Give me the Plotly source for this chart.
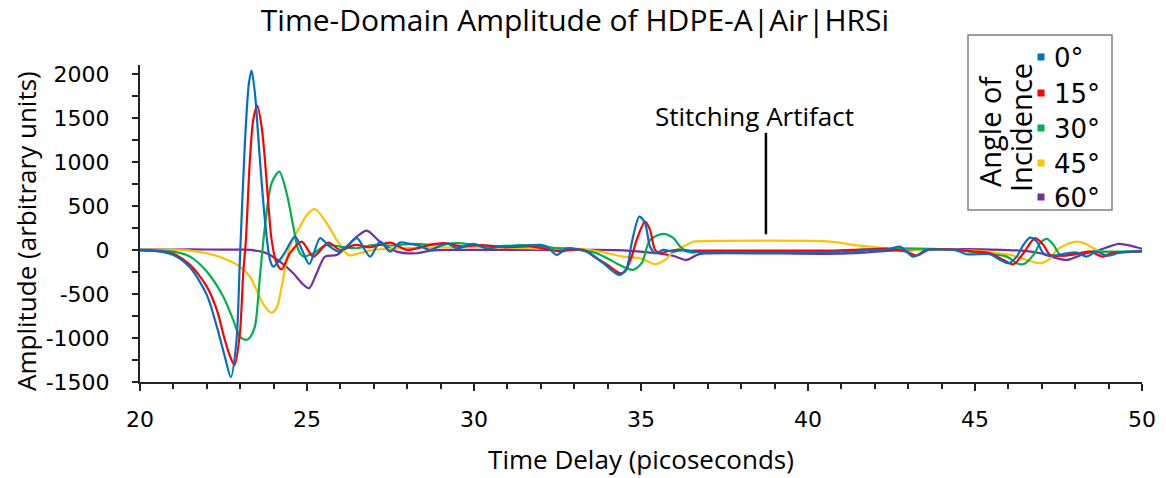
import plotly.graph_objects as go

# ---------------- data ----------------
t_0 = [20.0, 20.5, 21.0, 21.5, 22.0, 22.3, 22.54, 22.72, 22.89, 22.99, 23.14, 23.26, 23.34, 23.44, 23.59,
       23.74, 23.89, 23.99, 24.29, 24.64, 24.85, 25.07, 25.39, 25.64, 25.94, 26.2, 26.49, 26.89, 27.19, 27.49,
       27.78, 28.08, 28.38, 28.68, 28.95, 29.23, 29.49, 29.98, 30.38, 30.88, 31.38, 31.98, 32.18, 32.48, 32.78,
       33.08, 33.47, 33.87, 34.17, 34.37, 34.57, 34.72, 34.95, 35.12, 35.27, 35.42, 35.67, 35.97, 36.27, 36.57,
       40.8, 41.0, 41.35, 41.8, 42.35, 42.75, 43.15, 43.54, 44.0, 44.44, 44.74, 45.1, 45.45, 45.75, 46.0, 46.25,
       46.45, 46.65, 46.85, 47.05, 47.35, 47.75, 48.05, 48.34, 48.64, 48.94, 49.3, 49.6, 50.0]
a_0 = [-5, -15, -57, -200, -511, -871, -1212, -1445, -1023, -114, 1212, 1890, 2037, 1780, 1023,
       340, -110, -190, -60, 150, 0, -160, 133, 50, -19, 40, 133, -76, 95, -19,
       83, 68, 45, 0, 40, 68, 19, 68, 19, 40, 45, 57, 38, -57, 19,
       8, -38, -151, -246, -284, -208, 76, 378, 303, 38, -38, 0, -19, 0, -19,
       -23, -20, -26, 0, 0, 38, -76, 0, 5, -5, -49, -49, -49, -114, -151, -76,
       57, 140, 95, -38, -65, -38, -30, -76, -20, -65, -35, -20, -10]

t_15 = [20.0, 20.5, 21.0, 21.5, 22.0, 22.3, 22.54, 22.7, 22.83, 22.99, 23.09, 23.17, 23.29, 23.39, 23.51,
        23.64, 23.74, 23.84, 23.94, 24.09, 24.24, 24.49, 24.84, 25.19, 25.64, 25.99, 26.44, 26.89, 27.49, 28.0,
        28.68, 29.09, 29.68, 30.18, 30.88, 31.68, 32.28, 32.58, 32.88, 33.27, 33.67, 34.07, 34.37, 34.52, 34.72,
        34.87, 35.12, 35.27, 35.42, 35.57, 35.8, 36.1, 36.4, 36.6, 40.8, 41.35, 42.35, 42.94, 43.25, 43.6,
        44.3, 44.9, 45.45, 45.85, 46.15, 46.45, 46.65, 46.8, 47.05, 47.25, 47.65, 48.1, 48.45, 48.84, 49.1,
        49.6, 50.0]
a_15 = [-3, -12, -45, -170, -417, -682, -1023, -1212, -1307, -947, -265, 114, 1023, 1477, 1640,
        1402, 1023, 530, 114, -152, -220, -38, 95, -76, 83, 0, 57, 30, 83, 0,
        57, 76, 40, 55, 30, 40, 0, -19, 0, 0, -95, -189, -265, -246, -76,
        114, 322, 227, 0, -38, -15, 0, -10, -8, -8, 0, 11, -19, -65, 0,
        5, -15, -38, -114, -163, -38, 76, 133, 57, -57, -65, -40, -20, -76, -35,
        -25, -15]

t_30 = [20.0, 20.5, 21.0, 21.5, 22.0, 22.49, 22.79, 22.99, 23.19, 23.3, 23.44, 23.59, 23.74, 23.94, 24.17,
        24.39, 24.59, 24.74, 24.89, 25.19, 25.59, 25.99, 26.49, 26.99, 27.5, 28.18, 28.8, 29.5, 30.2, 30.9,
        31.5, 32.0, 32.5, 33.0, 33.67, 34.17, 34.57, 34.77, 35.02, 35.27, 35.67, 35.97, 36.17, 36.37, 36.57,
        36.7, 40.8, 41.5, 42.35, 43.3, 44.4, 45.2, 45.95, 46.25, 46.45, 46.75, 46.95, 47.15, 47.35, 47.55,
        47.8, 48.3, 48.64, 49.3, 50.0]
a_30 = [0, -5, -19, -76, -246, -530, -795, -985, -1023, -990, -871, -303, 265, 758, 890,
        644, 265, 0, -75, -38, 57, 38, 19, 57, 50, 68, 60, 76, 50, 45,
        55, 38, 20, 10, -38, -133, -208, -227, -151, 114, 182, 133, 38, -19, -30,
        -20, -15, 0, 15, 15, 0, -38, -76, -151, -163, -57, 76, 125, 57, -57,
        -60, -25, -20, -20, -19]

t_45 = [20.0, 21.0, 21.5, 22.0, 22.49, 22.99, 23.29, 23.49, 23.7, 23.94, 24.1, 24.24, 24.49, 24.79, 25.0,
        25.24, 25.59, 25.89, 26.24, 26.59, 26.99, 27.69, 28.5, 29.9, 30.8, 31.5, 32.3, 32.98, 33.37, 33.77,
        34.47, 34.97, 35.2, 35.42, 35.72, 35.97, 36.27, 36.57, 36.8, 40.45, 40.86, 41.35, 41.85, 42.35, 43.34,
        44.4, 45.3, 46.05, 46.55, 46.95, 47.25, 47.45, 47.75, 48.04, 48.34, 48.64, 48.94, 49.5, 50.0]
a_45 = [2, 0, -8, -38, -95, -189, -303, -455, -620, -712, -650, -417, 38, 265, 400,
        462, 303, 114, -60, -35, 0, 19, 25, 30, 25, 20, 15, 19, 5, -19,
        -76, -95, -130, -163, -114, -19, 38, 95, 100, 100, 87, 57, 38, 19, 0,
        0, -19, -57, -114, -151, -95, 0, 65, 95, 65, 0, -30, -20, -19]

t_60 = [20.0, 21.0, 22.0, 23.0, 23.3, 23.79, 24.19, 24.59, 24.85, 25.06, 25.29, 25.54, 25.89, 26.19, 26.49,
        26.79, 27.19, 27.69, 28.28, 28.7, 29.5, 30.5, 31.5, 32.5, 33.5, 34.5, 34.97, 35.47, 35.97, 36.37,
        36.67, 36.9, 40.5, 41.35, 42.35, 43.34, 44.8, 45.8, 46.5, 46.95, 47.45, 47.75, 48.05, 48.34, 48.74,
        49.1, 49.3, 49.65, 49.95, 50.0]
a_60 = [5, 5, 5, 3, 0, -38, -133, -265, -380, -436, -265, -76, -57, 38, 151,
        220, 90, -19, -38, -8, 0, 0, 0, 0, 0, -5, -19, -38, -68, -114,
        -57, -40, -45, -38, -11, 0, 8, 0, -10, -38, -95, -114, -76, -38, 0,
        49, 68, 49, 19, 15]

series_names = ["0°", "15°", "30°", "45°", "60°"]
series_colors = ["#0070C0", "#FF0000", "#00B050", "#FFC000", "#7030A0"]
series_t = [t_0, t_15, t_30, t_45, t_60]
series_a = [a_0, a_15, a_30, a_45, a_60]

x_ticks = [20, 25, 30, 35, 40, 45, 50]
y_ticks = [-1500, -1000, -500, 0, 500, 1000, 1500, 2000]
y_tick_labels = ["-1500", "-1000", "-500", "0", "500", "1000", "1500", "2000"]
y_range = [-1500, 2100]

artifact_t = 38.74
artifact_y = [178, 1330]
artifact_label = "Stitching Artifact"
legend_title_lines = ["Angle of", "Incidence"]

FONT = "Open Sans"
TICKFONT = "DejaVu Sans"

fig = go.Figure()
# draw later series first so blue sits on top like the reference
for name, col, tt, aa in reversed(list(zip(series_names, series_colors, series_t, series_a))):
    fig.add_trace(go.Scatter(x=tt, y=aa, mode="lines", name=name,
                             line=dict(color=col, width=2.2, shape="spline", smoothing=0.8),
                             showlegend=False, hoverinfo="x+y+name"))

# stitching artifact marker line + label
fig.add_trace(go.Scatter(x=[artifact_t, artifact_t], y=artifact_y, mode="lines",
                         line=dict(color="black", width=2.5), showlegend=False, hoverinfo="skip"))
fig.add_annotation(x=artifact_t - 0.33, y=artifact_y[1] + 195, xref="x", yref="y",
                   text=artifact_label, showarrow=False,
                   font=dict(family=FONT, size=26, color="black"))

# empty trace on an overlaid y axis that only carries the tick labels (pushed away from the axis line)
fig.add_trace(go.Scatter(x=[], y=[], yaxis="y2", showlegend=False, hoverinfo="skip"))

# plot area geometry (px)
L, R, T, B = 140, 24, 65, 96
W, H = 1166, 478
PW, PH = W - L - R, H - T - B

def px_x(p):
    return (p - L) / PW

def px_y(p):
    return (H - B - p) / PH

shapes = []
# legend box
shapes.append(dict(type="rect", xref="paper", yref="paper",
                   x0=px_x(968), x1=px_x(1112), y0=px_y(210), y1=px_y(35),
                   line=dict(color="#7F7F7F", width=1.5), fillcolor="white", layer="above"))
legend_rows = [57, 93, 128, 163, 197]
for i, (name, col) in enumerate(zip(series_names, series_colors)):
    yc = legend_rows[i]
    shapes.append(dict(type="rect", xref="paper", yref="paper",
                       x0=px_x(1037.5), x1=px_x(1044.5), y0=px_y(yc + 3.5), y1=px_y(yc - 3.5),
                       line=dict(width=0), fillcolor=col, layer="above"))
    fig.add_annotation(xref="paper", yref="paper", x=px_x(1053), y=px_y(yc + 1),
                       xanchor="left", yanchor="middle", text=name, showarrow=False,
                       borderpad=0,
                       font=dict(family=TICKFONT, size=26, color="black"))
for xc, yc, line in zip([989, 1020], [131, 128], legend_title_lines):
    fig.add_annotation(xref="paper", yref="paper", x=px_x(xc), y=px_y(yc),
                       xanchor="center", yanchor="middle", textangle=-90,
                       text=line, showarrow=False, borderpad=0,
                       font=dict(family=FONT, size=29, color="black"))

# y-axis title placed as a rotated annotation (fixed pixel position like the reference)
fig.add_annotation(xref="paper", yref="paper", x=px_x(26), y=px_y(231),
                   xanchor="center", yanchor="middle", textangle=-90,
                   text="Amplitude (arbitrary units)", showarrow=False, borderpad=0,
                   font=dict(family=FONT, size=26, color="black"))

fig.update_layout(
    width=W, height=H,
    margin=dict(l=L, r=R, t=T, b=B, autoexpand=False),
    paper_bgcolor="white", plot_bgcolor="white",
    shapes=shapes,
    title=dict(text="Time-Domain Amplitude of HDPE-A|Air|HRSi", x=575 / W, xanchor="center",
               y=1 - 20 / H, yanchor="middle", font=dict(family=FONT, size=30, color="black")),
    font=dict(family=FONT, color="black"),
    showlegend=False,
    yaxis2=dict(overlaying="y", side="left", range=y_range, tickvals=y_ticks, ticktext=y_tick_labels,
                ticks="outside", ticklen=25, tickcolor="rgba(0,0,0,0)", showline=False,
                showgrid=False, zeroline=False, automargin=False,
                tickfont=dict(family=TICKFONT, size=22, color="black")),
)
fig.update_xaxes(range=[20, 50], tickvals=x_ticks, ticks="outside", ticklen=7, tickwidth=1.5,
                 tickcolor="#222", showline=True, linecolor="#222", linewidth=1.5,
                 showgrid=False, zeroline=False, tickfont=dict(family=TICKFONT, size=22),
                 ticklabelstandoff=10, automargin=False,
                 minor=dict(dtick=1, ticks="outside", ticklen=5, tickwidth=1.5, tickcolor="#222"),
                 title=dict(text="Time Delay (picoseconds)", font=dict(family=FONT, size=26), standoff=20))
fig.update_layout(yaxis=dict(range=y_range, tickvals=y_ticks, ticks="outside", ticklen=6, tickwidth=1.5,
                             tickcolor="#222", showline=True, linecolor="#222", linewidth=1.5,
                             showgrid=False, zeroline=False, showticklabels=False, automargin=False,
                             minor=dict(dtick=250, tick0=0, ticks="outside", ticklen=6, tickwidth=1.5,
                                        tickcolor="#222")))

fig.write_html("out.html")
